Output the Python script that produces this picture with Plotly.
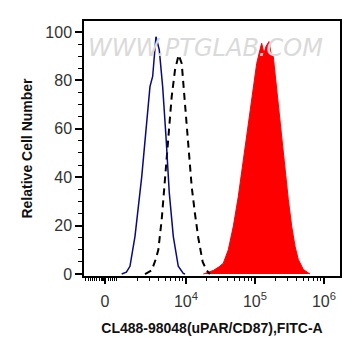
import plotly.graph_objects as go

# x values are in display (log-decade) units of the FITC-A channel; y = relative cell number
blue_x = [3.068, 3.087, 3.136, 3.188, 3.261, 3.358, 3.430, 3.478, 3.517, 3.565, 3.613, 3.662,
          3.710, 3.758, 3.816, 3.888, 3.961, 3.986]
blue_y = [0, 0.3, 0.8, 3.2, 15.6, 40, 61, 77.4, 81.6, 98, 92.6, 77.4, 56.8, 33.5, 15.6, 3.2, 0.3, 0]

dash_x = [3.406, 3.503, 3.560, 3.599, 3.648, 3.696, 3.743, 3.793, 3.841, 3.894, 3.938, 3.986,
          4.033, 4.083, 4.130, 4.178, 4.242, 4.300, 4.345]
dash_y = [0, 1.5, 6, 10, 22.5, 39, 56.8, 73.3, 84.3, 90.5, 87, 70.6, 52.7, 36, 25, 15, 5, 1.5, 0]

red_x = [4.251, 4.330, 4.396, 4.480, 4.541, 4.613, 4.686, 4.758, 4.830, 4.880, 4.928, 4.975, 5.025,
         5.072, 5.097, 5.130, 5.159, 5.203, 5.232, 5.265, 5.290, 5.338, 5.387, 5.435, 5.483,
         5.532, 5.580, 5.628, 5.700, 5.797]
red_y = [0, 0.8, 1.5, 3, 4.5, 10, 19.7, 32, 47, 55.5, 66.5, 77.4, 87, 92.6, 95.3, 91.2, 94, 96,
         91.2, 89.8, 83, 70.6, 56.8, 43, 30.7, 19.7, 11.5, 6, 1.9, 0]

x_tickvals = [2.826, 4, 5, 6]
x_ticktext = ["0", "10<sup>4</sup>", "10<sup>5</sup>", "10<sup>6</sup>"]
x_minor = ([2.55, 2.59, 2.62, 2.65, 2.68, 2.71, 2.74, 2.77, 2.79, 2.81, 2.84, 2.87, 2.90,
            2.93, 2.96, 3.0]
           + [d + v for d in (3, 4, 5) for v in (0.301, 0.477, 0.602, 0.699, 0.778, 0.845, 0.903, 0.954)])
y_tickvals = [0, 20, 40, 60, 80, 100]

fig = go.Figure()
fig.add_trace(go.Scatter(x=red_x, y=red_y, mode="lines", fill="tozeroy",
                         fillcolor="#ff0000", line=dict(color="#ff0000", width=1),
                         hoverinfo="skip"))
fig.add_trace(go.Scatter(x=dash_x, y=dash_y, mode="lines",
                         line=dict(color="#000000", width=2, dash="7px,5px"),
                         hoverinfo="skip"))
fig.add_trace(go.Scatter(x=blue_x, y=blue_y, mode="lines",
                         line=dict(color="#0a0a80", width=1.5),
                         hoverinfo="skip"))

fig.add_annotation(text="<i>WWW.PTGLAB.COM</i>", xref="paper", yref="paper",
                   x=0.475, y=0.957, showarrow=False,
                   font=dict(family="DejaVu Sans", size=24, color="#dadada"))

# page body has an 8px default margin; size the figure to fit the 361x356 window
fig.update_layout(
    width=353, height=348,
    margin=dict(l=76, r=21, t=13, b=80),
    paper_bgcolor="white", plot_bgcolor="white",
    showlegend=False,
    font=dict(family="Liberation Sans, Arial", color="#222222"),
)
fig.update_xaxes(
    range=[2.522, 6.232], showgrid=False, zeroline=False, automargin=False,
    showline=True, linecolor="black", linewidth=1.5, mirror=True,
    tickmode="array", tickvals=x_tickvals, ticktext=x_ticktext,
    ticks="outside", ticklen=6, tickwidth=1.5, tickcolor="black",
    ticklabelstandoff=4,
    tickfont=dict(size=16, color="#333333"),
    minor=dict(tickvals=x_minor, ticks="outside", ticklen=3, tickwidth=1, tickcolor="black"),
    title=dict(text="<b>CL488-98048(uPAR/CD87),FITC-A</b>", standoff=14,
               font=dict(size=14, color="#111111")),
)
fig.update_yaxes(
    range=[-0.8, 104.5], showgrid=False, zeroline=False, automargin=False,
    showline=True, linecolor="black", linewidth=1.5, mirror=True,
    tickmode="array", tickvals=y_tickvals,
    ticks="outside", ticklen=7, tickwidth=1.5, tickcolor="black",
    tickfont=dict(size=16, color="#333333"),
    minor=dict(dtick=5, ticks="outside", ticklen=4, tickwidth=1, tickcolor="black"),
    title=dict(text="<b>Relative Cell Number</b>", standoff=9,
               font=dict(size=14, color="#111111")),
)

fig.write_html("out.html")
